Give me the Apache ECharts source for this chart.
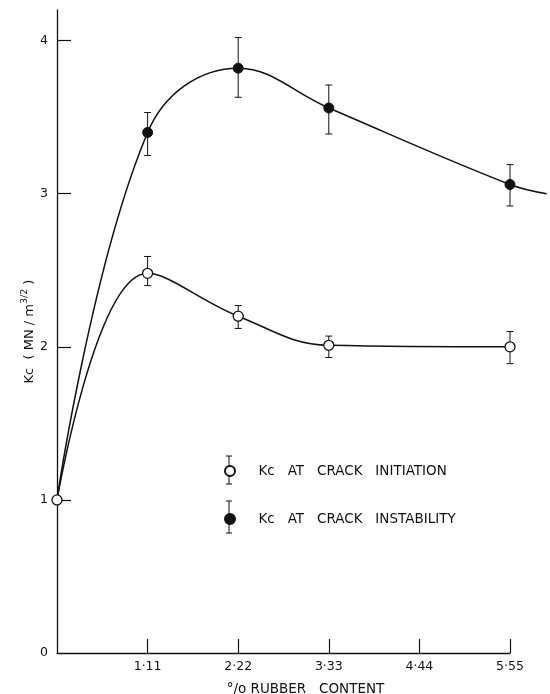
<!DOCTYPE html>
<html>
<head>
<meta charset="utf-8">
<script src="https://cdn.jsdelivr.net/npm/echarts@6/dist/echarts.min.js"></script>
<style>html,body{margin:0;padding:0;background:#fff}#c{width:550px;height:694px}</style>
</head>
<body>
<div id="c"></div>
<script>
// ---- data ----
const xTicks = [1.11, 2.22, 3.33, 4.44, 5.55];
const yTicks = [1, 2, 3, 4];
const yLabels = [0, 1, 2, 3, 4];

const initX   = [0, 1.11, 2.22, 3.33, 5.55];
const initY   = [1.0, 2.48, 2.20, 2.01, 2.00];
const initLo  = [null, 2.40, 2.12, 1.93, 1.89];
const initHi  = [null, 2.59, 2.27, 2.07, 2.10];

const instX   = [0, 1.11, 2.22, 3.33, 5.55, 6.00];
const instY   = [1.0, 3.40, 3.82, 3.56, 3.06, 3.00];
const instLo  = [null, 3.25, 3.63, 3.39, 2.92, null];
const instHi  = [null, 3.53, 4.02, 3.71, 3.19, null];

const nameInit = 'Kc   AT   CRACK   INITIATION';
const nameInst = 'Kc   AT   CRACK   INSTABILITY';

// ---- layout ----
const FONT = 'DejaVu Sans';
const W = 550, GL = 57, GR = 40, GT = 10, GB = 41;
const X_MAX = 5.55, Y_MAX = 4.2;
const DATA_X_MAX = Math.max.apply(null, instX);
const plotW = W - GL - GR;
const wideW = plotW * DATA_X_MAX / X_MAX;   // same scale, wider range for the curve tail

function pts(xs, ys, hiddenIdx) {
  return xs.map((x, i) => {
    const d = { value: [x, ys[i]] };
    if (hiddenIdx.indexOf(i) >= 0) d.symbol = 'none';
    return d;
  });
}
function errs(xs, lo, hi) {
  const out = [];
  xs.forEach((x, i) => { if (lo[i] != null) out.push([x, lo[i], hi[i]]); });
  return out;
}
function errRender(params, api) {
  const x = api.value(0);
  const p1 = api.coord([x, api.value(1)]);
  const p2 = api.coord([x, api.value(2)]);
  const w = 3.5;
  const st = { stroke: '#111', lineWidth: 1 };
  return { type: 'group', children: [
    { type: 'line', shape: { x1: p1[0], y1: p1[1], x2: p2[0], y2: p2[1] }, style: st },
    { type: 'line', shape: { x1: p1[0] - w, y1: p1[1], x2: p1[0] + w, y2: p1[1] }, style: st },
    { type: 'line', shape: { x1: p2[0] - w, y1: p2[1], x2: p2[0] + w, y2: p2[1] }, style: st }
  ]};
}

const chart = echarts.init(document.getElementById('c'), null, { renderer: 'canvas' });
chart.setOption({
  animation: false,
  backgroundColor: '#fff',
  textStyle: { fontFamily: FONT, color: '#111' },
  grid: [
    { left: GL, right: GR, top: GT, bottom: GB, containLabel: false, outerBoundsMode: 'none' },
    { left: GL, width: wideW, top: GT, bottom: GB, containLabel: false, outerBoundsMode: 'none' }
  ],
  xAxis: [{
    gridIndex: 0, type: 'value', min: 0, max: X_MAX,
    name: '°/o RUBBER   CONTENT', nameLocation: 'middle', nameGap: 29, nameMoveOverlap: false,
    nameTextStyle: { fontFamily: FONT, fontSize: 13.5, color: '#111', padding: [0, 0, 0, 44] },
    axisLine: { show: true, onZero: false, lineStyle: { color: '#111', width: 1.3 } },
    axisTick: { show: true, inside: true, length: 14, customValues: xTicks, lineStyle: { color: '#111', width: 1.2 } },
    axisLabel: { show: true, customValues: xTicks, margin: 7, fontFamily: FONT, fontSize: 12.5, color: '#111',
      formatter: v => v.toFixed(2).replace('.', '·') },
    splitLine: { show: false }
  }, {
    gridIndex: 1, type: 'value', min: 0, max: DATA_X_MAX, show: false
  }],
  yAxis: [{
    gridIndex: 0, type: 'value', min: 0, max: Y_MAX,
    name: 'Kc  ( MN / m{sup|3/2} )', nameLocation: 'middle', nameGap: 17, nameMoveOverlap: false,
    nameTextStyle: { fontFamily: FONT, fontSize: 13, color: '#111',
      rich: { sup: { fontFamily: FONT, fontSize: 9.5, verticalAlign: 'top', lineHeight: 20, padding: [0, 0, 7, 0] } } },
    axisLine: { show: true, onZero: false, lineStyle: { color: '#111', width: 1.3 } },
    axisTick: { show: true, inside: true, length: 14, customValues: yTicks, lineStyle: { color: '#111', width: 1.2 } },
    axisLabel: { show: true, customValues: yLabels, margin: 9, fontFamily: FONT, fontSize: 12.5, color: '#111',
      formatter: v => String(Math.round(v)) },
    splitLine: { show: false }
  }, {
    gridIndex: 1, type: 'value', min: 0, max: Y_MAX, show: false
  }],
  legend: {
    orient: 'vertical', left: 219, top: 459, itemWidth: 47, itemHeight: 10, itemGap: 34,
    selectedMode: false,
    textStyle: { fontFamily: FONT, fontSize: 13.5, color: '#111' },
    data: [{ name: nameInit, icon: 'circle' }, { name: nameInst, icon: 'circle' }]
  },
  graphic: [
    { type: 'group', silent: true, z: 0, children: [
      { type: 'line', shape: { x1: 229, y1: 456, x2: 229, y2: 484 }, style: { stroke: '#111', lineWidth: 1 } },
      { type: 'line', shape: { x1: 226, y1: 456, x2: 232, y2: 456 }, style: { stroke: '#111', lineWidth: 1 } },
      { type: 'line', shape: { x1: 226, y1: 484, x2: 232, y2: 484 }, style: { stroke: '#111', lineWidth: 1 } },
      { type: 'line', shape: { x1: 229, y1: 501, x2: 229, y2: 533 }, style: { stroke: '#111', lineWidth: 1 } },
      { type: 'line', shape: { x1: 226, y1: 501, x2: 232, y2: 501 }, style: { stroke: '#111', lineWidth: 1 } },
      { type: 'line', shape: { x1: 226, y1: 533, x2: 232, y2: 533 }, style: { stroke: '#111', lineWidth: 1 } }
    ]}
  ],
  series: [
    { type: 'custom', name: 'errInst', xAxisIndex: 1, yAxisIndex: 1, data: errs(instX, instLo, instHi),
      renderItem: errRender, z: 1, silent: true, encode: { x: 0, y: [1, 2] } },
    { type: 'custom', name: 'errInit', xAxisIndex: 1, yAxisIndex: 1, data: errs(initX, initLo, initHi),
      renderItem: errRender, z: 1, silent: true, encode: { x: 0, y: [1, 2] } },
    { type: 'line', name: nameInst, xAxisIndex: 1, yAxisIndex: 1, data: pts(instX, instY, [0, 5]),
      smooth: 0.4, clip: false, symbol: 'circle', symbolSize: 10, z: 3,
      lineStyle: { color: '#111', width: 1.5 },
      itemStyle: { color: '#111', borderColor: '#111', borderWidth: 1 } },
    { type: 'line', name: nameInit, xAxisIndex: 1, yAxisIndex: 1, data: pts(initX, initY, []),
      smooth: 0.4, clip: false, symbol: 'circle', symbolSize: 10, z: 4,
      lineStyle: { color: '#111', width: 1.5 },
      itemStyle: { color: '#fff', borderColor: '#111', borderWidth: 1.3 } }
  ]
});
</script>
</body>
</html>
